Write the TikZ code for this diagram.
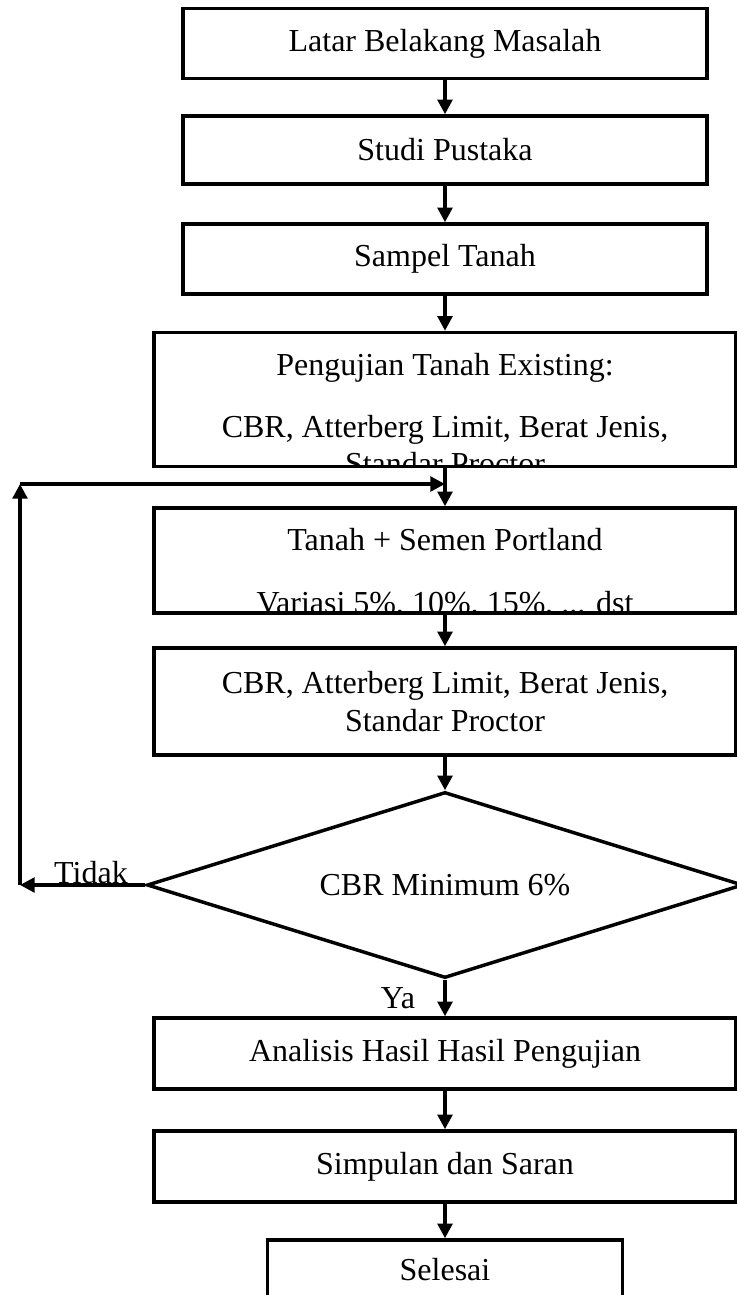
\documentclass[tikz,border=0pt]{standalone}
\usepackage{fontspec}
\setmainfont{Liberation Serif}
\usetikzlibrary{shapes.geometric,arrows.meta}
\begin{document}
\begin{tikzpicture}[x=0.75pt,y=-0.75pt,
  every node/.style={font=\fontsize{24}{28}\selectfont},
  box/.style={draw,line width=2.6pt,rectangle,inner sep=0pt,align=center},
  narrowbox/.style={box,minimum width=393pt},
  widebox/.style={box,minimum width=436.5pt},
  decision/.style={draw,line width=2.6pt,diamond,aspect=3.2,inner sep=0pt,minimum width=447pt,minimum height=139.5pt},
  conn/.style={line width=2.6pt,-{Triangle[length=11pt,width=11pt]}},
  lbl/.style={inner sep=0pt,anchor=base}
]
\useasboundingbox (0,0) rectangle (737,1295);
\clip (0,0) rectangle (737,1295);

% clipped texts (cut at the inner edge of the frame)
\begin{scope}
  \clip (156,335) rectangle (733,465);
  \node[lbl] (t41) at (445,375) {Pengujian Tanah Existing:};
  \node[lbl] (t42) at (445,437) {CBR, Atterberg Limit, Berat Jenis,};
  \node[lbl] (t43) at (445,474) {Standar Proctor};
\end{scope}
\begin{scope}
  \clip (156,511) rectangle (733,610);
  \node[lbl] (t51) at (445,550) {Tanah + Semen Portland};
  \node[lbl] (t52) at (445,613) {Variasi 5\%, 10\%, 15\%, ... dst};
\end{scope}

% boxes
\node[narrowbox,minimum height=52.5pt] (b1) at (445,43.5) {Latar Belakang Masalah};
\node[narrowbox,minimum height=51pt] (b2) at (445,150) {Studi Pustaka};
\node[narrowbox,minimum height=52.5pt] (b3) at (445,259) {Sampel Tanah};
\node[widebox,minimum height=100.5pt] (b4) at (445,399.5) {};
\node[widebox,minimum height=78.75pt] (b5) at (445,560.5) {};
\node[widebox,minimum height=80.25pt] (b6) at (445,701.5) {CBR, Atterberg Limit, Berat Jenis,\\Standar Proctor};
\node[decision] (dia) at (445,885) {\raisebox{-4pt}{CBR Minimum 6\%}};
\node[widebox,minimum height=53.25pt] (b7) at (445,1053.5) {Analisis Hasil Hasil Pengujian};
\node[widebox,minimum height=53.25pt] (b8) at (445,1166.5) {Simpulan dan Saran};
\node[box,minimum width=266.25pt,minimum height=45pt] (b9) at (445,1270) {Selesai};

% labels
\node[lbl] (tidak) at (91,883) {Tidak};
\node[lbl] (ya) at (398,1008) {Ya};

% loop coordinates
\coordinate (lc) at (20,885);
\coordinate (ltop) at (20,484);
\coordinate (join) at (445,484);

% connectors
\draw[conn] (b1) -- (b2);
\draw[conn] (b2) -- (b3);
\draw[conn] (b3) -- (b4);
\draw[conn] (b4) -- (b5);
\draw[conn] (b5) -- (b6);
\draw[conn] (b6) -- (dia);
\draw[conn] (dia) -- (b7);
\draw[conn] (b7) -- (b8);
\draw[conn] (b8) -- (b9);
\draw[conn] (dia.west) -- (lc);
\draw[conn] (lc) -- (ltop);
\draw[conn] (ltop) -- (join);
\end{tikzpicture}
\end{document}
